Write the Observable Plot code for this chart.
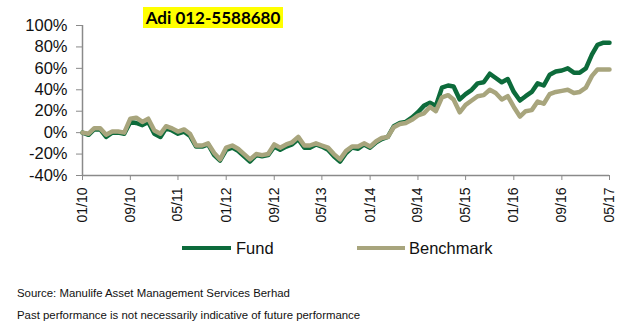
<!DOCTYPE html>
<html>
<head>
<meta charset="utf-8">
<script src="https://cdn.jsdelivr.net/npm/d3@7"></script>
<script src="https://cdn.jsdelivr.net/npm/@observablehq/plot@0.6"></script>
<style>
  html, body { margin: 0; padding: 0; background: #fff; }
  #wrap { position: relative; width: 626px; height: 329px; font-family: "Liberation Sans", Arial, sans-serif; color: #111; }
  #tag { position: absolute; left: 143px; top: 7px; width: 140px; height: 21px; background: #ffff00;
         font-family: Lato, "Open Sans", sans-serif; font-weight: bold; font-size: 17px; line-height: 21px; text-align: center; color: #000; }
  #chart { position: absolute; left: 0; top: 0; }
  .leg { position: absolute; top: 238px; font-size: 16.5px; line-height: 20px; }
  .sw { position: absolute; height: 4px; top: 246px; }
  .note { position: absolute; left: 17px; font-size: 11.4px; line-height: 16px; color: #111; }
</style>
</head>
<body>
<div id="wrap">
  <div id="chart"></div>
  <div id="tag">Adi 012-5588680</div>
  <div class="sw" style="left:182px;width:49px;background:#0d6b3b"></div>
  <div class="leg" style="left:236px">Fund</div>
  <div class="sw" style="left:357px;width:48px;background:#a8a57d"></div>
  <div class="leg" style="left:409px">Benchmark</div>
  <div class="note" style="top:285px">Source: Manulife Asset Management Services Berhad</div>
  <div class="note" style="top:307px">Past performance is not necessarily indicative of future performance</div>
</div>
<script>
// Monthly cumulative performance (%), Jan 2010 .. May 2017
const fund = [0,-2,3,3,-4,0,0,-1,10,9,7,10,-1,-4,4,2,-1,1,-3,-13,-13,-11,-21,-26,-16,-14,-17,-22,-27,-21,-22,-21,-13,-16,-13,-11,-6,-14,-14,-11,-13,-16,-22,-27,-19,-14,-15,-11,-14,-9,-6,-4,6,9,10,14,19,25,28,25,42,44,43,31,36,40,46,47,55,51,47,50,38,30,34,38,46,44,54,57,58,60,56,56,60,73,82,84,84];
const bench = [0,-1,4,4,-2,1,1,0,13,14,10,13,2,-1,6,4,1,3,-1,-12,-12,-10,-19,-25,-14,-12,-15,-20,-25,-20,-21,-20,-11,-14,-11,-9,-4,-12,-12,-10,-12,-14,-20,-25,-17,-13,-13,-10,-13,-8,-5,-4,5,8,9,12,16,18,24,20,33,35,31,19,26,30,34,35,40,37,31,34,24,15,20,21,29,27,36,38,39,40,37,38,42,53,59,59,59];
const months = d3.utcMonth.range(new Date(Date.UTC(2010,0,1)), new Date(Date.UTC(2017,5,1)));
const xTickLabels = ["01/10","09/10","05/11","01/12","09/12","05/13","01/14","09/14","05/15","01/16","09/16","05/17"];
const yTicks = [-40,-20,0,20,40,60,80,100];

const parseTick = d3.utcParse("%m/%y");
const xTicks = xTickLabels.map(parseTick);
const rows = months.map((d, i) => ({date: d, fund: fund[i], bench: bench[i]}));

const axisColor = "#8a8a8a";
const chart = Plot.plot({
  width: 626,
  height: 232,
  marginLeft: 82,
  marginRight: 17,
  marginTop: 25,
  marginBottom: 57,
  style: {fontFamily: "'Liberation Sans', Arial, sans-serif", color: "#111", background: "transparent"},
  x: {type: "utc", domain: [xTicks[0], xTicks[xTicks.length - 1]]},
  y: {domain: [-40, 100]},
  marks: [
    Plot.ruleY([-40], {stroke: axisColor, strokeWidth: 1.5}),
    Plot.ruleX([xTicks[0]], {stroke: axisColor, strokeWidth: 1.5}),
    Plot.axisY({ticks: yTicks, tickFormat: d => d + "%", tickSize: 6, tickPadding: 9, stroke: axisColor, label: null, fontSize: 16.5}),
    Plot.axisX({ticks: xTicks, tickFormat: d3.utcFormat("%m/%y"), tickSize: 5, tickPadding: 7, tickRotate: -90, stroke: axisColor, label: null, fontSize: 14}),
    Plot.line(rows, {x: "date", y: "fund", stroke: "#0d6b3b", strokeWidth: 4.5, strokeLinejoin: "round"}),
    Plot.line(rows, {x: "date", y: "bench", stroke: "#a8a57d", strokeWidth: 4.5, strokeLinejoin: "round"})
  ]
});
document.getElementById("chart").appendChild(chart);
</script>
</body>
</html>
